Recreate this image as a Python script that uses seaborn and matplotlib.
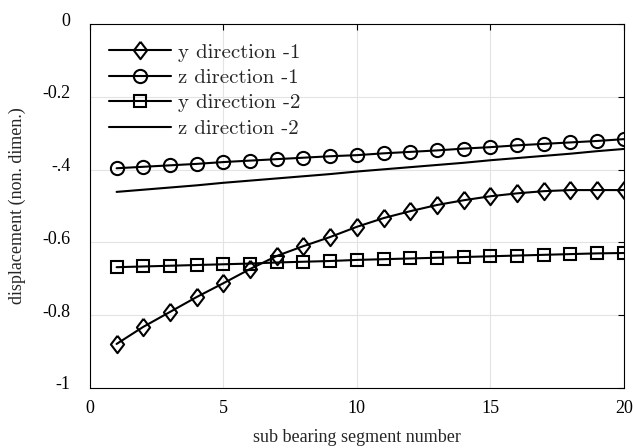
import numpy as np
import pandas as pd
import matplotlib
matplotlib.use('Agg')
import matplotlib.pyplot as plt
import matplotlib.transforms as mtransforms
import seaborn as sns

segment = list(range(1, 21))
y_dir_1 = [-0.879, -0.832, -0.791, -0.750, -0.712, -0.673, -0.637, -0.610, -0.585, -0.557,
           -0.533, -0.514, -0.497, -0.484, -0.473, -0.465, -0.459, -0.456, -0.456, -0.456]
z_dir_1 = [-0.396, -0.392, -0.388, -0.384, -0.379, -0.375, -0.371, -0.367, -0.363, -0.360,
           -0.355, -0.351, -0.347, -0.342, -0.338, -0.333, -0.329, -0.325, -0.321, -0.316]
y_dir_2 = [-0.668, -0.666, -0.664, -0.662, -0.660, -0.658, -0.655, -0.653, -0.651, -0.648,
           -0.646, -0.644, -0.642, -0.640, -0.638, -0.636, -0.634, -0.632, -0.630, -0.629]
z_dir_2 = [-0.461, -0.455, -0.449, -0.443, -0.436, -0.430, -0.424, -0.418, -0.412, -0.405,
           -0.399, -0.393, -0.387, -0.381, -0.374, -0.368, -0.362, -0.356, -0.349, -0.343]
labels = ['y direction -1', 'z direction -1', 'y direction -2', 'z direction -2']
x_ticks = [0, 5, 10, 15, 20]
y_ticks = [0, -0.2, -0.4, -0.6, -0.8, -1]
y_tick_labels = ['0', '-0.2', '-.4', '-0.6', '-0.8', '-1']

sns.set_style('white')
plt.rcParams['font.family'] = ['Liberation Serif', 'DejaVu Serif']

fig = plt.figure(figsize=(6.33, 4.48), dpi=100)
ax = fig.add_axes([0.142, 0.134, 0.8436, 0.812])

diamond = [(0, 1), (0.76, 0), (0, -1), (-0.76, 0), (0, 1)]
series = [(y_dir_1, diamond, 12.5), (z_dir_1, 'o', 9.5), (y_dir_2, 's', 8.5), (z_dir_2, None, 0)]
for vals, mk, ms in series:
    df = pd.DataFrame({'seg': segment, 'val': vals})
    kw = dict(marker=mk, markersize=ms, markerfacecolor='none',
              markeredgecolor='black', markeredgewidth=1.5) if mk is not None else {}
    sns.lineplot(data=df, x='seg', y='val', color='black', linewidth=1.5, ax=ax, **kw)

ax.set_xlim(0, 20)
ax.set_ylim(-1, 0)
ax.set_xticks(x_ticks)
ax.set_yticks(y_ticks)
ax.set_yticklabels(y_tick_labels)
ax.tick_params(direction='in', top=True, right=True, length=4, width=0.8,
               labelsize=13, colors='black')
ax.tick_params(axis='x', pad=9)
ax.tick_params(axis='y', pad=14)
# y tick labels sit a little above their ticks
shift = mtransforms.ScaledTranslation(0, 5 / 100, fig.dpi_scale_trans)
for lbl in ax.get_yticklabels():
    lbl.set_transform(lbl.get_transform() + shift)
ax.grid(True, color='#e3e3e3', linewidth=0.8)
for s in ax.spines.values():
    s.set_color('black')
    s.set_linewidth(0.8)
ax.set_xlabel('sub bearing segment number', fontsize=13, labelpad=8)
ax.set_ylabel('displacement (non. dimen.)', fontsize=13, labelpad=12)

leg = ax.legend(ax.get_lines()[:4], labels, loc='upper left', frameon=False,
                handlelength=3.0, borderaxespad=0.5, labelspacing=0.33,
                handletextpad=0.35, prop={'family': 'cmr10', 'size': 15})

fig.savefig('out.png', dpi=100)
